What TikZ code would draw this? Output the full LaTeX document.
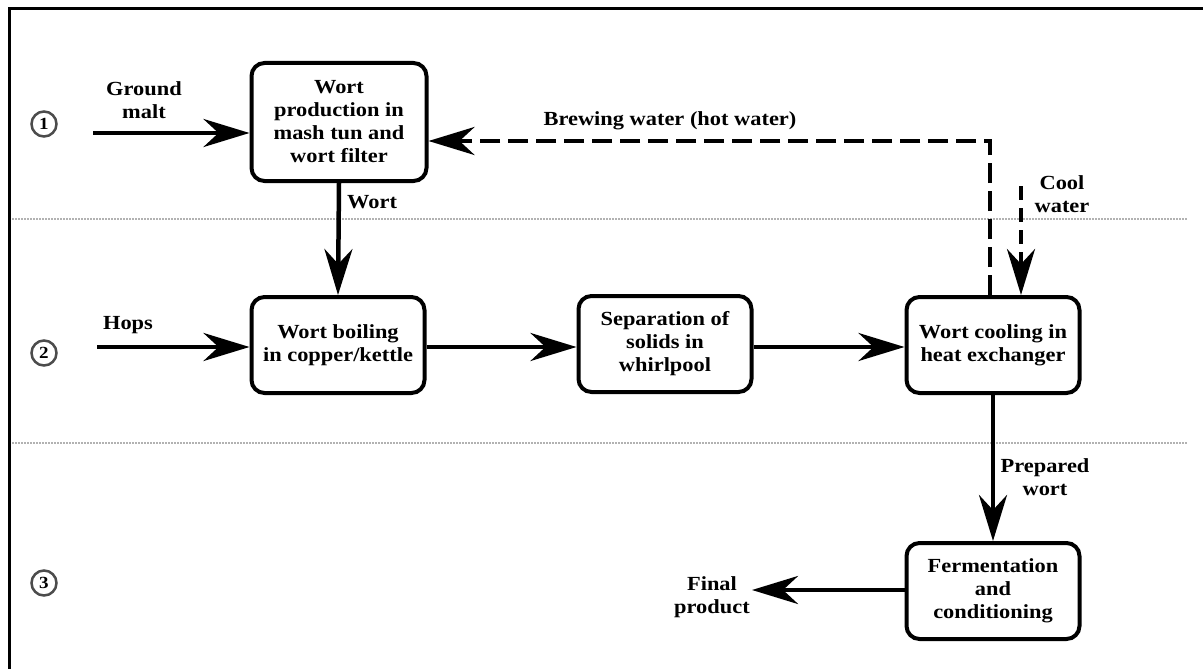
\documentclass[tikz,border=0pt]{standalone}
\usepackage{fontspec}
\setmainfont[FakeStretch=1.12]{Liberation Serif}
\usetikzlibrary{arrows.meta}
\begin{document}
\begin{tikzpicture}[x=1pt,y=-1pt,
  proc/.style={draw, line width=4pt, rounded corners=13pt, minimum width=173pt,
    minimum height=96pt, align=center, inner sep=2pt,
    font=\bfseries\fontsize{20}{23}\selectfont},
  lbl/.style={align=center, inner sep=0pt, font=\bfseries\fontsize{20}{23}\selectfont},
  tipbig/.style={-{Stealth[length=46pt,width=28pt,inset=15pt]}},
  flow/.style={line width=4.5pt, tipbig},
  dflow/.style={line width=4.5pt, tipbig, dash pattern=on 20pt off 8pt},
  cflow/.style={line width=4pt, tipbig, dash pattern=on 14pt off 8pt},
  sep/.style={gray!60, line width=1.5pt, dash pattern=on 1.5pt off 1.5pt},
  num/.style={circle, draw=black!70, line width=2.5pt, inner sep=0pt, minimum size=25pt,
    font=\bfseries\fontsize{17}{17}\selectfont}
]
\useasboundingbox (0,0) rectangle (1203,669);
\fill[white] (0,0) rectangle (1203,669);
% frame
\draw[line width=3pt] (9,669) -- (9,9) -- (1203,9);
% separators
\draw[sep] (12,219) -- (1188,219);
\draw[sep] (12,443) -- (1188,443);
% stage numbers
\node[num] (n1) at (44,124) {1};
\node[num] (n2) at (44,353) {2};
\node[num] (n3) at (44,583) {3};
% boxes
\node[proc, minimum width=175pt, minimum height=118pt] (b1) at (339,122) {Wort\\production in\\mash tun and\\wort filter};
\node[proc] (b2) at (338,345) {Wort boiling\\in copper/kettle};
\node[proc] (b3) at (665,344) {Separation of\\solids in\\whirlpool};
\node[proc] (b4) at (993,345) {Wort cooling in\\heat exchanger};
\node[proc] (b5) at (993,591) {Fermentation\\and\\conditioning};
% labels
\node[lbl] (lgm) at (144,100) {Ground\\malt};
\node[lbl, anchor=west] (lw) at (347,202) {Wort};
\node[lbl] (lh) at (128,325) {Hops};
\node[lbl] (lbw) at (670,121) {Brewing water (hot water)};
\node[lbl] (lcw) at (1062,194) {Cool\\water};
\node[lbl] (lpw) at (1045,477) {Prepared\\wort};
\node[lbl] (lfp) at (712,597) {Final\\product};
% connectors
\coordinate (gm) at (93,133);
\draw[flow] (gm) -- (gm -| b1.west);
\draw[flow] (b1.south) -- (b2.north);
\coordinate (hp) at (97,347);
\draw[flow] (hp) -- (hp -| b2.west);
\draw[flow] (b2.east |- 0,347) -- (b3.west |- 0,347);
\draw[flow] (b3.east |- 0,347) -- (b4.west |- 0,347);
\draw[flow] (b4.south) -- (b5.north);
\coordinate (fp) at (752,590);
\draw[flow] (b5.west |- fp) -- (fp);
\coordinate (bw) at (990,141);
\draw[dflow] (b4.north -| bw) -- (bw) -- (bw -| b1.east);
\coordinate (cw) at (1021,186);
\draw[cflow] (cw) -- (cw |- b4.north);
\end{tikzpicture}
\end{document}
